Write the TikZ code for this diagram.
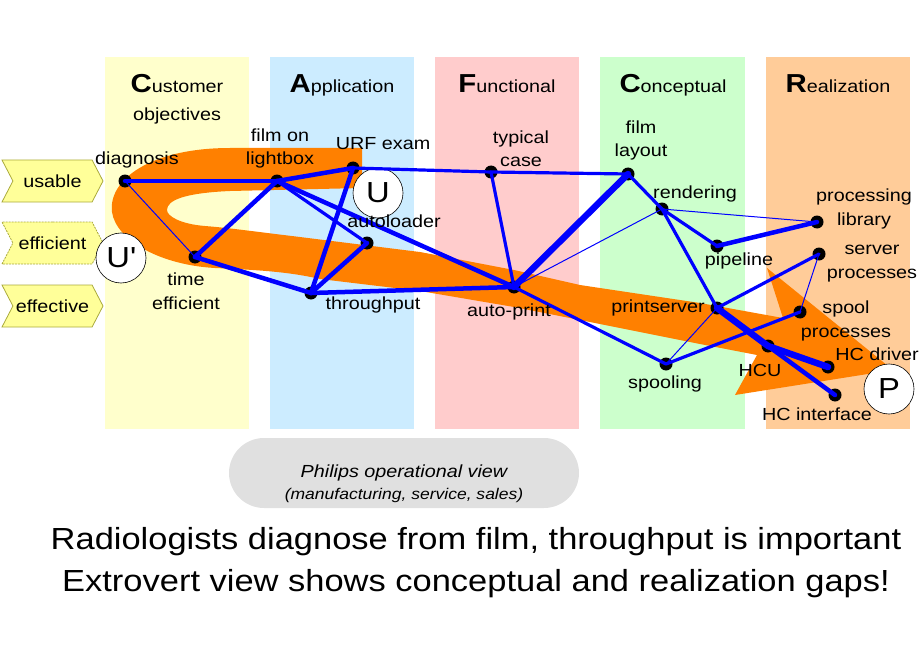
\documentclass[tikz,border=0pt]{standalone}
\usepackage{fontspec}
\setmainfont{Liberation Sans}[FakeStretch=1.13]
\usepackage{tikz}
\usetikzlibrary{shapes.symbols, positioning}
\definecolor{custbg}{RGB}{255,255,204}
\definecolor{applbg}{RGB}{204,236,255}
\definecolor{funcbg}{RGB}{255,204,204}
\definecolor{concbg}{RGB}{204,255,204}
\definecolor{realbg}{RGB}{255,204,153}
\definecolor{bandor}{RGB}{255,128,0}
\definecolor{lnblue}{RGB}{0,0,255}
\definecolor{qualfill}{RGB}{255,255,153}
\definecolor{qualline}{RGB}{170,170,60}
\definecolor{opsgray}{RGB}{224,224,224}
\newcommand{\bigC}[1]{{\fontsize{26bp}{28bp}\selectfont\bfseries #1}}
\tikzset{
  wire/.style ={draw=lnblue, line cap=round, line join=round},
  w1/.style   ={wire, line width=1bp},
  w3/.style   ={wire, line width=3.2bp},
  w4/.style   ={wire, line width=4.5bp},
  w6/.style   ={wire, line width=6.5bp},
  knot/.style ={circle, fill=black, minimum size=13bp, inner sep=0pt},
  lbl/.style  ={font=\fontsize{17.5bp}{23.5bp}\selectfont, inner sep=0pt, anchor=base, align=center},
  head/.style ={font=\fontsize{17.5bp}{28bp}\selectfont, inner sep=0pt, anchor=base, align=center},
  ring/.style ={circle, draw, fill=white, line width=0.6bp, minimum size=50bp, inner sep=0pt,
                font=\fontsize{29bp}{30bp}\selectfont},
  qual/.style ={signal, signal to=east, signal from=west, signal pointer angle=125,
                draw=qualline, fill=qualfill, line width=0.8bp, minimum width=101bp,
                minimum height=42bp, inner sep=0pt, font=\fontsize{17.5bp}{20bp}\selectfont},
  opstext/.style={align=center, inner sep=0pt, anchor=base,
                font=\fontsize{17.5bp}{22bp}\selectfont\itshape},
}
\begin{document}
\begin{tikzpicture}[x=1bp, y=-1bp]
  \useasboundingbox (0,0) rectangle (920,660);
  % --- view columns --------------------------------------------------------
  \fill[custbg] (105,57) rectangle (249,429);
  \fill[applbg] (270,57) rectangle (414,429);
  \fill[funcbg] (435,57) rectangle (579,429);
  \fill[concbg] (600,57) rectangle (745,429);
  \fill[realbg] (766,57) rectangle (910,429);
  \node[head] (cust-h) at (177,121) {\bigC{C}ustomer\\objectives};
  \node[head] (appl-h) at (342,93) {\bigC{A}pplication};
  \node[head] (func-h) at (507,93) {\bigC{F}unctional};
  \node[head] (conc-h) at (673,93) {\bigC{C}onceptual};
  \node[head] (real-h) at (838,93) {\bigC{R}ealization};

  % --- orange flow band ----------------------------------------------------
  \fill[bandor] (362,148) -- (230,148)
    .. controls (150,148) and (108,180) .. (112,212)
    .. controls (116,240) and (160,265) .. (215,268)
    .. controls (260,270) and (290,272) .. (320,279)
    -- (420,291) -- (514,307) -- (580,320) -- (700,344) -- (757,355)
    -- (735,395) -- (893,370) -- (767,268) -- (783,318)
    -- (700,303) -- (580,285) -- (514,270) -- (420,252) -- (300,237)
    .. controls (250,231) and (230,228) .. (205,226)
    .. controls (180,224) and (167,216) .. (167,210)
    .. controls (167,200) and (185,193) .. (230,191)
    -- (362,188) -- cycle;

  \node[qual] (usable) at (52.5,181) {usable};
  \node[qual, dash pattern=on 2bp off 1bp] (efficient) at (52.5,243) {efficient};
  \node[qual] (effective) at (52.5,306) {effective};
  \node[ring] (uprime) at (121,258) {U\textquotesingle};
  \node[ring] (uring)  at (378,193) {U};
  \node[ring] (pring)  at (889,389) {P};

  % --- nodes ---------------------------------------------------------------
  \node[knot] (diag) at (125,181) {};
  \node[knot] (time) at (195,257) {};
  \node[knot] (lbox) at (277,181) {};
  \node[knot] (urf)  at (353,168) {};
  \node[knot] (auto) at (367,243) {};
  \node[knot] (thru) at (311,293) {};
  \node[knot] (typ)  at (491,172) {};
  \node[knot] (aprt) at (514,287) {};
  \node[knot] (lay)  at (628,174) {};
  \node[knot] (rend) at (662,209) {};
  \node[knot] (pipe) at (717,246) {};
  \node[knot] (plib) at (817,222) {};
  \node[knot] (srv)  at (819,254) {};
  \node[knot] (psrv) at (717,308) {};
  \node[knot] (spp)  at (800,312) {};
  \node[knot] (spl)  at (666,364) {};
  \node[knot] (hcu)  at (768,346) {};
  \node[knot] (hcd)  at (828,367) {};
  \node[knot] (hci)  at (835,395) {};

  % --- relations -----------------------------------------------------------
  \draw[w4] (diag.center) -- (lbox.center);
  \draw[w1] (diag.center) -- (time.center);
  \draw[w4] (time.center) -- (lbox.center);
  \draw[w4] (time.center) -- (thru.center);
  \draw[w4] (lbox.center) -- (urf.center);
  \draw[w3] (lbox.center) -- (auto.center);
  \draw[w4] (lbox.center) -- (aprt.center);
  \draw[w4] (urf.center) -- (thru.center);
  \draw[w4] (auto.center) -- (thru.center);
  \draw[w4] (thru.center) -- (aprt.center);
  \draw[w3] (urf.center) -- (typ.center) -- (lay.center);
  \draw[w3] (typ.center) -- (aprt.center);
  \draw[w6] (aprt.center) -- (lay.center);
  \draw[w1] (aprt.center) -- (rend.center);
  \draw[w3] (aprt.center) -- (spl.center);
  \draw[w3] (lay.center) -- (rend.center) -- (pipe.center);
  \draw[w1] (rend.center) -- (plib.center);
  \draw[w4] (pipe.center) -- (plib.center);
  \draw[w3] (rend.center) -- (psrv.center);
  \draw[w3] (psrv.center) -- (srv.center);
  \draw[w1] (psrv.center) -- (spl.center);
  \draw[w3] (spl.center) -- (spp.center);
  \draw[w1] (spp.center) -- (srv.center);
  \draw[w6] (psrv.center) -- (hcu.center);
  \draw[w4] (hcu.center) -- (hci.center);
  \draw[w6] (hcu.center) -- (hcd.center);

  % --- labels (base = last line) -------------------------------------------
  \node[lbl] (diag-l) at (137,165) {diagnosis};
  \node[lbl] (time-l) at (186,309) {time\\efficient};
  \node[lbl] (lbox-l) at (280,165) {film on\\lightbox};
  \node[lbl] (urf-l)  at (383,150) {URF exam};
  \node[lbl] (auto-l) at (394,227) {autoloader};
  \node[lbl] (thru-l) at (373,309) {throughput};
  \node[lbl] (typ-l)  at (521,167) {typical\\case};
  \node[lbl] (aprt-l) at (509,316) {auto-print};
  \node[lbl] (lay-l)  at (641,157) {film\\layout};
  \node[lbl] (rend-l) at (695,198) {rendering};
  \node[lbl] (pipe-l) at (739,265) {pipeline};
  \node[lbl] (plib-l) at (864,225) {processing\\library};
  \node[lbl] (srv-l)  at (872,278) {server\\processes};
  \node[lbl] (psrv-l) at (658,312) {printserver};
  \node[lbl] (spp-l)  at (846,337) {spool\\processes};
  \node[lbl] (spl-l)  at (665,388) {spooling};
  \node[lbl] (hcu-l)  at (760,376) {HCU};
  \node[lbl] (hcd-l)  at (877,360) {HC driver};
  \node[lbl] (hci-l)  at (817,420) {HC interface};

  % --- bottom --------------------------------------------------------------
  \fill[opsgray, rounded corners=35bp] (229,438) rectangle (579,508);
  \node[opstext] (ops) at (404,499) {Philips operational view\\
    {\fontsize{15.5bp}{22bp}\selectfont(manufacturing, service, sales)}};
  \node[lbl, font=\fontsize{30.5bp}{42bp}\selectfont] (msg) at (476,591.5)
    {Radiologists diagnose from film, throughput is important\\
     Extrovert view shows conceptual and realization gaps!};
\end{tikzpicture}
\end{document}
